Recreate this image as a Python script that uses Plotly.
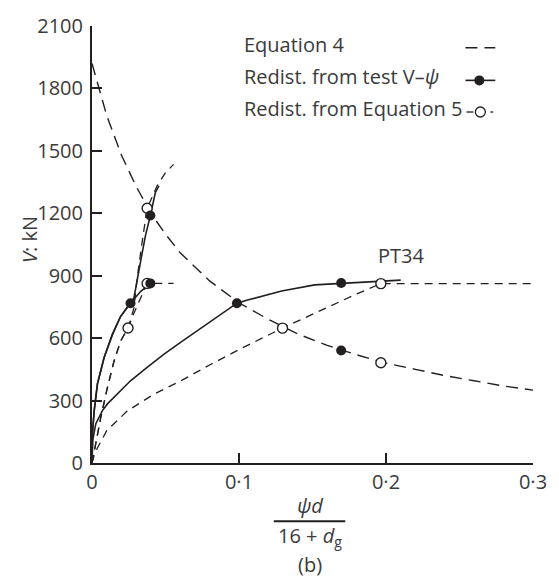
import plotly.graph_objects as go

# ---------------- data ----------------
x_ticks = [0, 0.1, 0.2, 0.3]
x_ticktext = ["0", "0·1", "0·2", "0·3"]
y_ticks = [0, 300, 600, 900, 1200, 1500, 1800, 2100]

# Equation 4 (failure criterion)
eq4_x = [0, 0.01, 0.02, 0.03, 0.04, 0.05, 0.06, 0.08, 0.10, 0.12, 0.14, 0.16,
         0.18, 0.20, 0.22, 0.24, 0.26, 0.28, 0.30]
eq4_v = [1920, 1670, 1480, 1330, 1200, 1100, 1010, 875, 770, 690, 620, 565,
         520, 480, 450, 420, 395, 370, 350]

# PT34 test V-psi curve
pt34_x = [0, 0.0005, 0.0026, 0.0071, 0.0105, 0.0172, 0.0262, 0.0375, 0.0488,
          0.060, 0.0704, 0.086, 0.0986, 0.1064, 0.129, 0.1515, 0.1695, 0.1965, 0.21]
pt34_v = [0, 110, 189, 252, 284, 332, 395, 459, 522,
          578, 629, 706, 768, 784, 827, 856, 863, 871, 879]

# steep test curves (shared lower part, then two branches)
low_x = [0, 0.0003, 0.0015, 0.0037, 0.0082, 0.0139, 0.0195, 0.0262]
low_v = [0, 141, 252, 380, 506, 618, 705, 768]
brA_x = [0.033, 0.0397, 0.042]
brA_v = [824, 863, 866]
brB_x = [0.0285, 0.033, 0.0364, 0.0397, 0.0431, 0.0455]
brB_v = [792, 967, 1094, 1189, 1300, 1332]

# Equation 5 curves (dashed)
d1_x = [0, 0.002, 0.01, 0.024, 0.042, 0.061, 0.08, 0.10, 0.13, 0.16, 0.18, 0.1965, 0.30]
d1_v = [0, 50, 155, 250, 330, 397, 471, 545, 650, 749, 812, 862, 862]
d2_x = [0, 0.006, 0.0105, 0.015, 0.0195, 0.0245, 0.0285, 0.034, 0.0375, 0.0555]
d2_v = [0, 220, 363, 490, 586, 649, 720, 805, 863, 863]
d3_x = [0, 0.006, 0.0105, 0.015, 0.0195, 0.0245, 0.0285, 0.0307, 0.0341, 0.0375,
        0.0443, 0.050, 0.0555]
d3_v = [0, 220, 363, 490, 586, 649, 744, 887, 1062, 1224, 1332, 1395, 1435]

# redistribution points
filled_x = [0.0262, 0.0397, 0.0397, 0.0986, 0.1695, 0.1695]
filled_v = [768, 863, 1189, 768, 865, 541]
open_x = [0.0245, 0.0375, 0.0375, 0.1296, 0.1965, 0.1965]
open_v = [649, 863, 1224, 648, 862, 482]

legend_labels = ["Equation 4", "Redist. from test V\u2013<i>\u03c8</i>", "Redist. from Equation 5"]

# ---------------- style ----------------
INK = "#231f20"
TXT = "#3a3a3a"
FONT = "Open Sans"
FS = 20
LONG_DASH = "12px,7px"
SHORT_DASH = "8px,6px"

W, H = 559, 581
ML, MR, MT, MB = 92, 23, 21, 118
PW, PH = W - ML - MR, H - MT - MB


def px(x):
    return (x - ML) / PW


def py(y):
    return (H - MB - y) / PH


fig = go.Figure()


def line(x, y, dash, width=1.4):
    fig.add_trace(go.Scatter(x=x, y=y, mode="lines", showlegend=False,
                             line=dict(color=INK, width=width, dash=dash),
                             hoverinfo="skip"))


line(eq4_x, eq4_v, LONG_DASH, 1.4)
line(d1_x, d1_v, SHORT_DASH, 1.3)
line(d2_x, d2_v, SHORT_DASH, 1.3)
line(d3_x, d3_v, SHORT_DASH, 1.3)
line(pt34_x, pt34_v, "solid", 1.6)
line(low_x + brA_x, low_v + brA_v, "solid", 1.6)
line(low_x + brB_x, low_v + brB_v, "solid", 1.6)

fig.add_trace(go.Scatter(x=open_x, y=open_v, mode="markers", showlegend=False,
                         marker=dict(symbol="circle", size=10, color="white",
                                     line=dict(color=INK, width=1.4)),
                         cliponaxis=False))
fig.add_trace(go.Scatter(x=filled_x, y=filled_v, mode="markers", showlegend=False,
                         marker=dict(symbol="circle", size=10, color=INK,
                                     line=dict(color=INK, width=0)),
                         cliponaxis=False))

annotations = []
shapes = []

# PT34 label
annotations.append(dict(x=0.21, y=995, xref="x", yref="y", text="PT34", showarrow=False,
                        xanchor="center", yanchor="middle",
                        font=dict(family=FONT, size=FS, color=TXT)))

# custom legend (text left, glyph right)
rows_y = [40, 72, 104]
for lab, ry in zip(legend_labels, rows_y):
    annotations.append(dict(x=px(243), y=py(ry), xref="paper", yref="paper", text=lab,
                            showarrow=False, xanchor="left", yanchor="middle",
                            font=dict(family=FONT, size=FS, color=TXT)))
g_y = [43, 76, 108]
# row 1 glyph: long dashes
shapes.append(dict(type="line", xref="paper", yref="paper", x0=px(468), x1=px(498),
                   y0=py(g_y[0]), y1=py(g_y[0]),
                   line=dict(color=INK, width=1.4, dash=LONG_DASH)))
# row 2 glyph: solid line with filled dot
shapes.append(dict(type="line", xref="paper", yref="paper", x0=px(468), x1=px(498),
                   y0=py(g_y[1]), y1=py(g_y[1]),
                   line=dict(color=INK, width=1.6)))
shapes.append(dict(type="circle", xref="paper", yref="paper", xsizemode="pixel",
                   ysizemode="pixel", xanchor=px(482), yanchor=py(g_y[1]),
                   x0=-5, x1=5, y0=-5, y1=5, fillcolor=INK, line=dict(color=INK, width=0)))
# row 3 glyph: short dash, open circle, dot
shapes.append(dict(type="line", xref="paper", yref="paper", x0=px(469), x1=px(476),
                   y0=py(g_y[2]), y1=py(g_y[2]), line=dict(color=INK, width=1.3)))
shapes.append(dict(type="line", xref="paper", yref="paper", x0=px(493), x1=px(496),
                   y0=py(g_y[2]), y1=py(g_y[2]), line=dict(color=INK, width=1.3)))
shapes.append(dict(type="circle", xref="paper", yref="paper", xsizemode="pixel",
                   ysizemode="pixel", xanchor=px(483), yanchor=py(g_y[2]),
                   x0=-5, x1=5, y0=-5, y1=5, fillcolor="white",
                   line=dict(color=INK, width=1.3)))

# y-axis title
annotations.append(dict(x=px(29), y=py(237), xref="paper", yref="paper",
                        text="<i>V</i>: kN", showarrow=False, textangle=-90,
                        xanchor="center", yanchor="middle",
                        font=dict(family=FONT, size=FS, color=TXT)))
# x-axis title as a fraction
annotations.append(dict(x=px(311), y=py(506), xref="paper", yref="paper",
                        text="<i>\u03c8d</i>", showarrow=False,
                        xanchor="center", yanchor="middle",
                        font=dict(family=FONT, size=FS, color=TXT)))
shapes.append(dict(type="line", xref="paper", yref="paper", x0=px(275), x1=px(347),
                   y0=py(522), y1=py(522), line=dict(color=INK, width=2)))
annotations.append(dict(x=px(311), y=py(521), xref="paper", yref="paper",
                        text="16 + <i>d</i><sub>g</sub>", showarrow=False,
                        xanchor="center", yanchor="top",
                        font=dict(family=FONT, size=FS, color=TXT)))
annotations.append(dict(x=px(311), y=py(581), xref="paper", yref="paper",
                        text="(b)", showarrow=False,
                        xanchor="center", yanchor="bottom",
                        font=dict(family=FONT, size=FS, color=TXT)))

fig.update_layout(
    width=W, height=H,
    margin=dict(l=ML, r=MR, t=MT, b=MB, pad=0),
    paper_bgcolor="white", plot_bgcolor="white",
    font=dict(family=FONT, size=FS, color=TXT),
    showlegend=False,
    annotations=annotations,
    shapes=shapes,
    xaxis=dict(range=[0, 0.3], tickvals=x_ticks, ticktext=x_ticktext,
               showgrid=False, zeroline=False, showline=True, linecolor=INK, linewidth=2,
               ticks="inside", ticklen=10, tickwidth=2, tickcolor=INK,
               tickfont=dict(family=FONT, size=FS, color=TXT)),
    yaxis=dict(range=[0, 2100], tickvals=y_ticks,
               showgrid=False, zeroline=False, showline=True, linecolor=INK, linewidth=2,
               ticks="inside", ticklen=10, tickwidth=2, tickcolor=INK, ticklabelstandoff=3,
               tickfont=dict(family=FONT, size=FS, color=TXT)),
)

fig.write_html("out.html", config={"displayModeBar": False},
               post_script="document.body.style.margin='0';document.body.style.overflow='hidden';")
